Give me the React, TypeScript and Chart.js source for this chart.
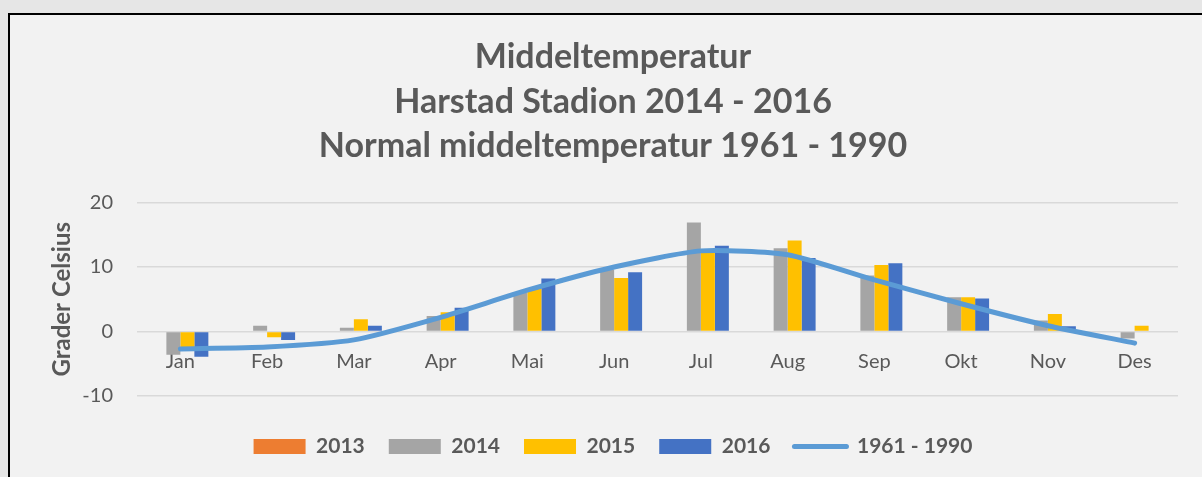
import React, { useEffect, useRef } from 'react';
import { Chart, registerables } from 'chart.js';

Chart.register(...registerables);

const months = ['Jan', 'Feb', 'Mar', 'Apr', 'Mai', 'Jun', 'Jul', 'Aug', 'Sep', 'Okt', 'Nov', 'Des'];
const series2013: (number | null)[] = [null, null, null, null, null, null, null, null, null, null, null, null];
const series2014 = [-3.6, 0.9, 0.6, 2.4, 6.0, 9.6, 16.9, 12.9, 8.7, 5.3, 1.7, -1.1];
const series2015 = [-2.4, -0.9, 1.9, 3.0, 6.6, 8.3, 12.3, 14.1, 10.3, 5.3, 2.7, 0.9];
const series2016: (number | null)[] = [-3.9, -1.3, 0.9, 3.7, 8.2, 9.2, 13.3, 11.4, 10.6, 5.1, 0.8, null];
const normal1961to1990 = [-2.7, -2.4, -1.3, 2.2, 6.4, 10.0, 12.5, 11.9, 8.0, 4.3, 0.9, -1.8];
const seriesNames = ['2013', '2014', '2015', '2016', '1961 - 1990'];
const titleLines = ['Middeltemperatur', 'Harstad Stadion 2014 - 2016', 'Normal middeltemperatur 1961 - 1990'];
const yAxisTitle = 'Grader Celsius';
const yMin = -10;
const yMax = 20;
const yStep = 10;

const TEXT = '#595959';
const FONT = 'Lato';

export default function App() {
  const ref = useRef<HTMLCanvasElement>(null);

  useEffect(() => {
    const canvas = ref.current!;
    const chart = new Chart(canvas, {
      type: 'bar',
      data: {
        labels: months,
        datasets: [
          { type: 'bar', label: seriesNames[0], data: series2013, backgroundColor: '#ed7d31', borderWidth: 0 },
          { type: 'bar', label: seriesNames[1], data: series2014, backgroundColor: '#a5a5a5', borderWidth: 0 },
          { type: 'bar', label: seriesNames[2], data: series2015, backgroundColor: '#ffc000', borderWidth: 0 },
          { type: 'bar', label: seriesNames[3], data: series2016, backgroundColor: '#4472c4', borderWidth: 0 },
          {
            type: 'line',
            label: seriesNames[4],
            data: normal1961to1990,
            borderColor: '#5b9bd5',
            backgroundColor: '#5b9bd5',
            borderWidth: 5,
            pointRadius: 0,
            tension: 0.2,
            borderCapStyle: 'round',
            borderJoinStyle: 'round',
            order: -1,
          } as any,
        ],
      },
      options: {
        responsive: false,
        animation: false,
        devicePixelRatio: 1,
        layout: { padding: { left: 38, right: 24, top: 0, bottom: 10 } },
        datasets: {
          bar: { categoryPercentage: 0.645, barPercentage: 1.0 },
        },
        plugins: {
          title: {
            display: true,
            text: titleLines,
            color: TEXT,
            font: { family: FONT, size: 34, weight: 'bold', lineHeight: 44.5 / 34 },
            padding: { top: 20, bottom: 34 },
          },
          legend: {
            display: true,
            position: 'bottom',
            labels: {
              color: TEXT,
              font: { family: FONT, size: 21, weight: 'bold' },
              usePointStyle: true,
              pointStyleWidth: 52,
              boxWidth: 52,
              boxHeight: 15,
              padding: 24,
              generateLabels: (c: any) =>
                c.data.datasets.map((ds: any, i: number) => {
                  const isLine = ds.type === 'line';
                  return {
                    text: ds.label,
                    fillStyle: isLine ? ds.borderColor : ds.backgroundColor,
                    strokeStyle: isLine ? ds.borderColor : ds.backgroundColor,
                    lineWidth: isLine ? 5 : 0,
                    lineCap: 'round',
                    pointStyle: isLine ? 'line' : 'rect',
                    datasetIndex: i,
                    hidden: false,
                    fontColor: TEXT,
                  };
                }),
            },
          },
          tooltip: { enabled: false },
        },
        scales: {
          x: {
            type: 'category',
            position: { y: 0 } as any,
            offset: true,
            grid: { display: false, drawTicks: false },
            border: { display: false },
            ticks: { color: TEXT, font: { family: FONT, size: 20 }, padding: 18 },
          },
          xPad: {
            type: 'category',
            position: 'bottom',
            grid: { display: false, drawTicks: false },
            border: { display: false },
            ticks: { display: false },
            afterFit: (s: any) => {
              s.height = 16;
            },
          } as any,
          y: {
            type: 'linear',
            min: yMin,
            max: yMax,
            ticks: { stepSize: yStep, color: TEXT, font: { family: FONT, size: 20 }, padding: 24 },
            grid: { color: '#d9d9d9', lineWidth: 1.5, drawTicks: false },
            border: { display: false },
            title: {
              display: true,
              text: yAxisTitle,
              color: TEXT,
              font: { family: FONT, size: 24, weight: 'bold', lineHeight: 1.2 },
              padding: { top: 0, bottom: 0 },
            },
            afterFit: (s: any) => {
              s.width = 89;
            },
          },
        },
      },
    });
    return () => chart.destroy();
  }, []);

  return (
    <div
      style={{
        position: 'absolute',
        left: 0,
        top: 0,
        width: 1202,
        height: 477,
        background: '#e6e6e6',
        overflow: 'hidden',
      }}
    >
      <div
        style={{
          position: 'absolute',
          left: 8,
          top: 13,
          width: 1230,
          height: 500,
          borderTop: '2px solid #000',
          borderLeft: '2px solid #000',
          background: '#f2f2f2',
        }}
      >
        <canvas
          ref={ref}
          width={1192}
          height={462}
          style={{ position: 'absolute', left: 0, top: 0, width: 1192, height: 462 }}
        />
      </div>
    </div>
  );
}
